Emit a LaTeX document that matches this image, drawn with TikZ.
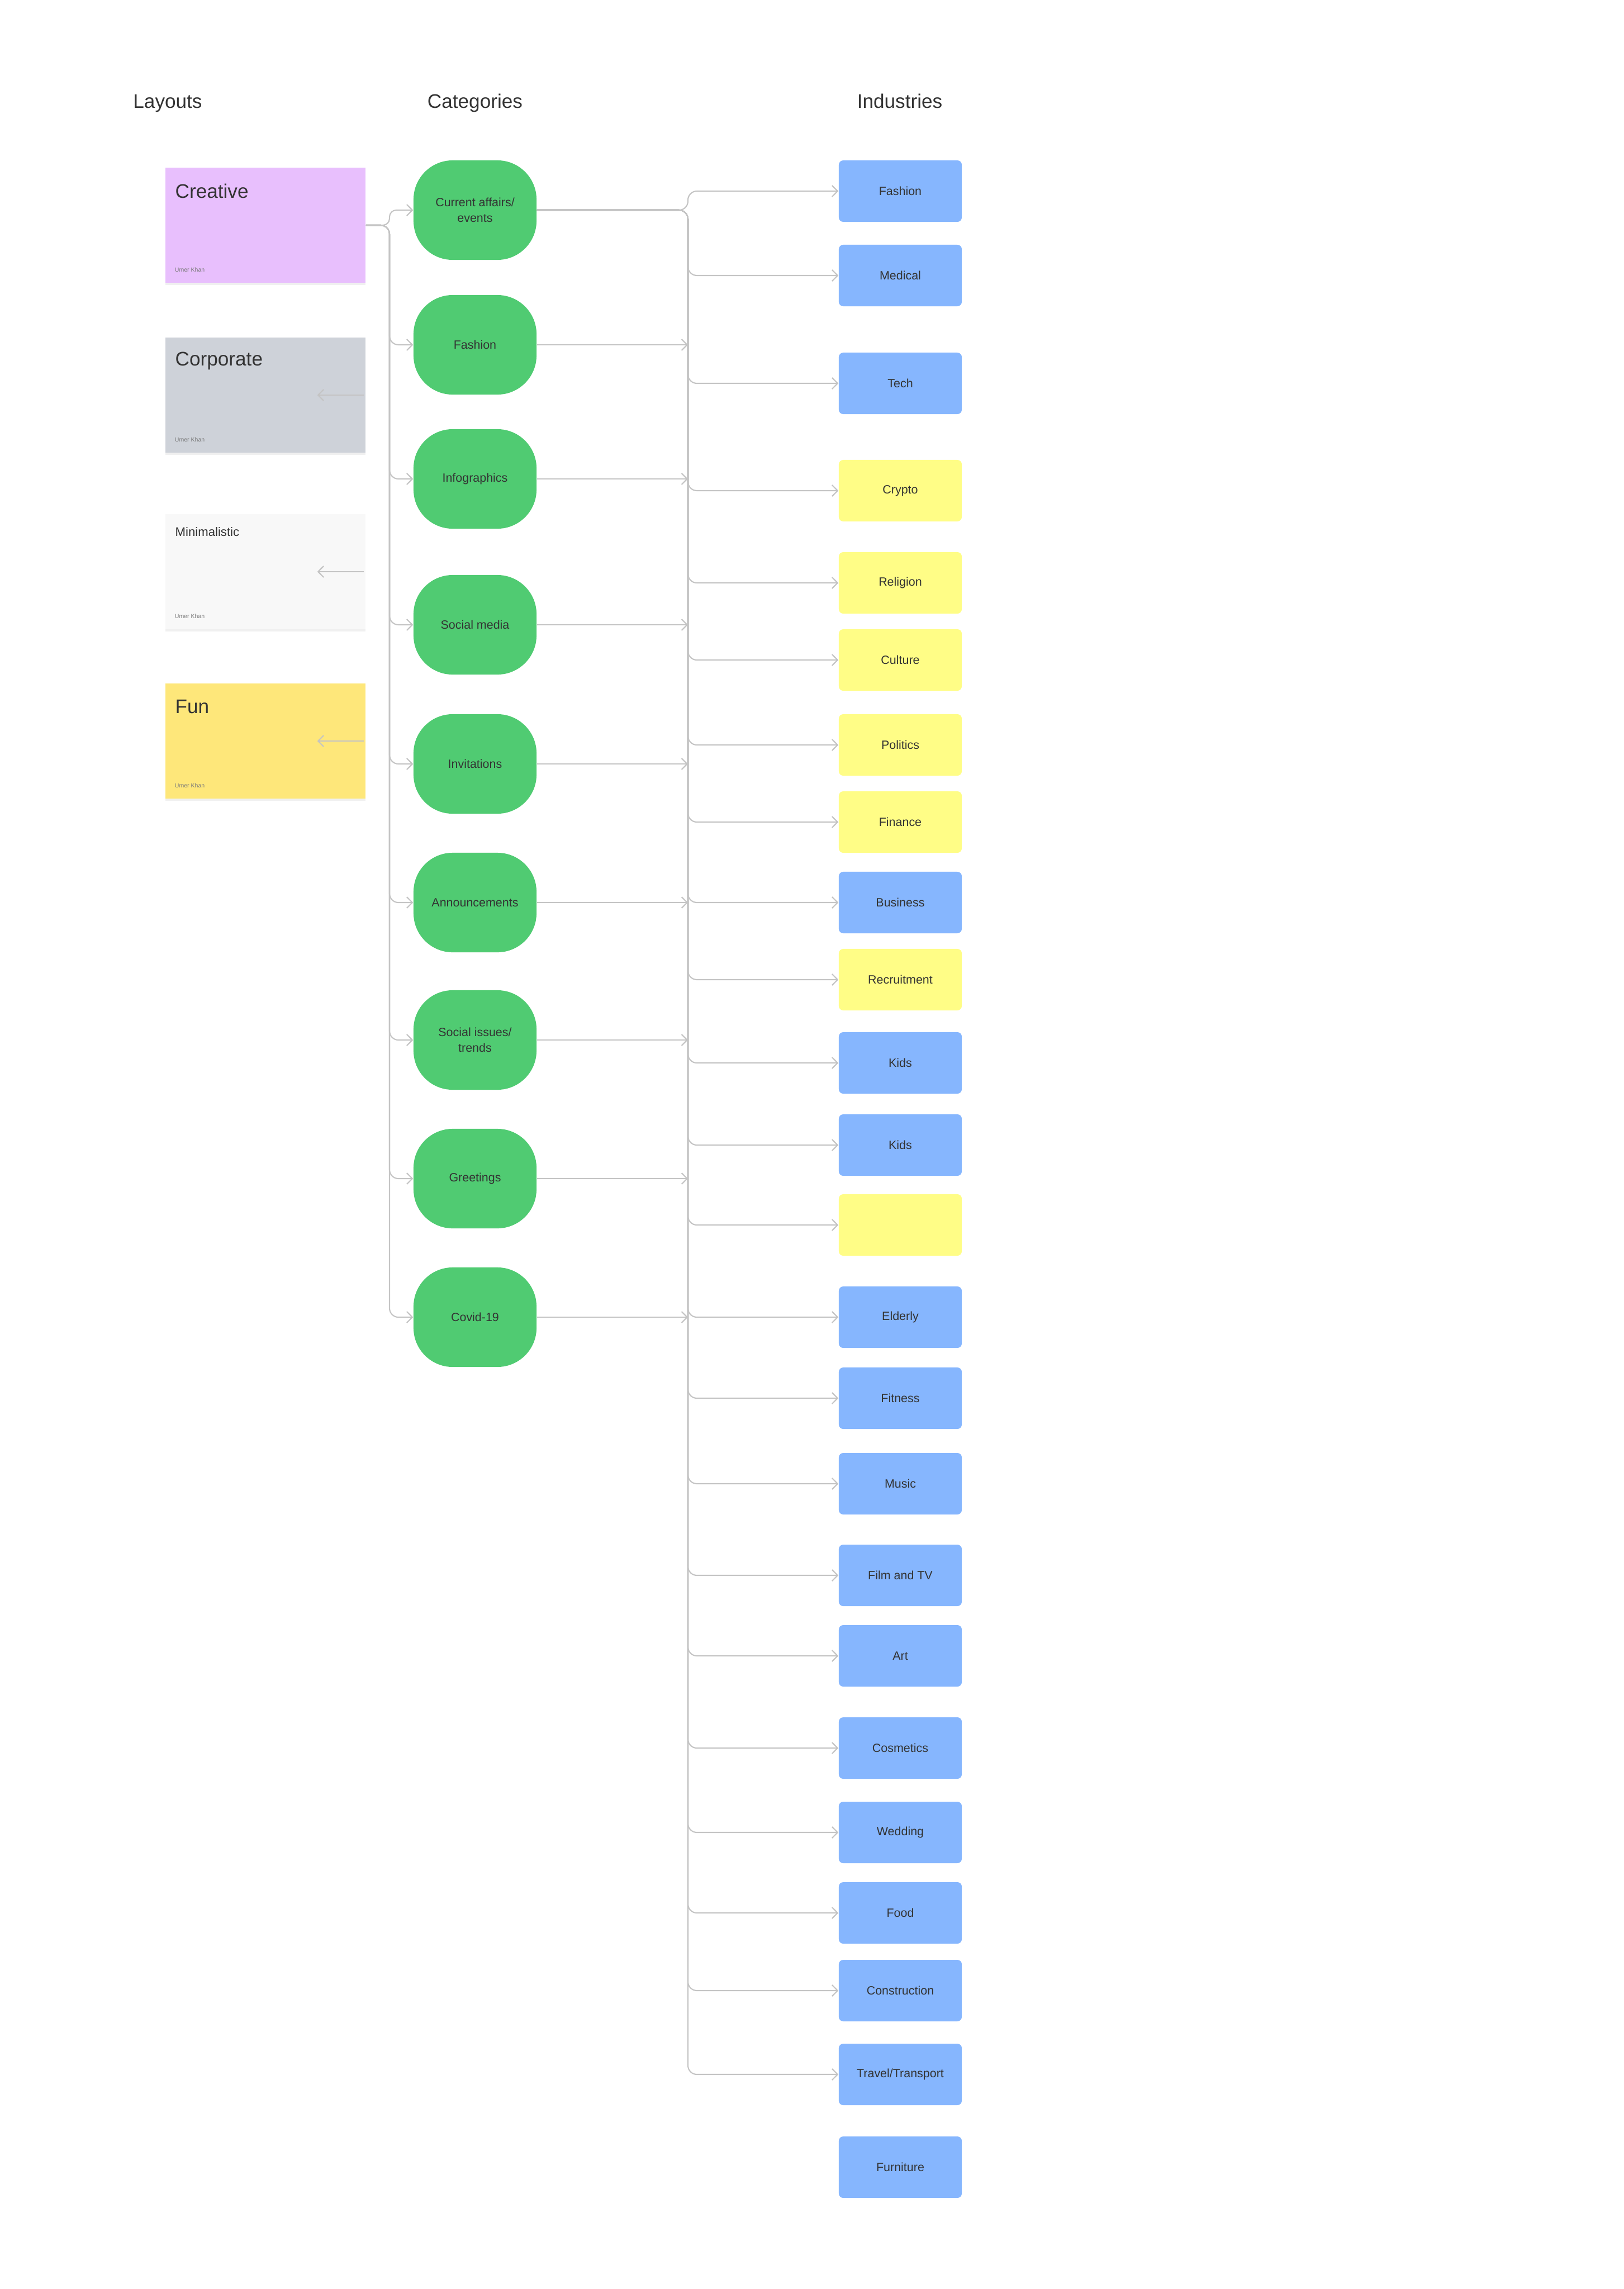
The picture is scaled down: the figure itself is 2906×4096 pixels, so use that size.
\documentclass[tikz,border=0pt]{standalone}
\usepackage{fontspec}
\setmainfont{Liberation Sans}
\usetikzlibrary{arrows.meta,shadows}

\definecolor{inkgray}{HTML}{333333}
\definecolor{namegray}{HTML}{7A7A7A}
\definecolor{linkgray}{HTML}{C4C4C4}
\definecolor{catgreen}{HTML}{50CB72}
\definecolor{indblue}{HTML}{86B6FE}
\definecolor{indyellow}{HTML}{FFFD86}
\definecolor{creativepink}{HTML}{E8BFFD}
\definecolor{corporategray}{HTML}{CED2D9}
\definecolor{minimalwhite}{HTML}{F8F8F8}
\definecolor{funyellow}{HTML}{FEE77A}

\tikzset{
  heading/.style={font=\fontsize{10}{12}\selectfont, anchor=base},
  card/.style={minimum width=3.58cm, minimum height=2.06cm,
    drop shadow={shadow xshift=0pt, shadow yshift=-1pt, opacity=0.12}},
  cardtitle/.style={anchor=west, font=\fontsize{10}{12}\selectfont},
  cardname/.style={anchor=west, font=\fontsize{3}{4}\selectfont, text=namegray},
  category/.style={fill=catgreen, rounded corners=0.7cm, minimum width=2.2cm,
    minimum height=1.78cm, align=center, font=\fontsize{6.1}{8}\selectfont},
  industry/.style={rounded corners=0.08cm, minimum width=2.2cm,
    minimum height=1.1cm, font=\fontsize{6.1}{8}\selectfont},
  link/.style={draw=linkgray, line width=0.6pt, rounded corners=0.16cm,
    -{Straight Barb[length=2.8pt, width=5.7pt]}}
}

\begin{document}
\begin{tikzpicture}[x=0.01cm, y=-0.01cm, every node/.style={inner sep=0pt, text=inkgray}]
    \useasboundingbox (0,0) rectangle (2906,4096);

    % column headings
    \node[heading] (h-layouts) at (300,193) {Layouts};
    \node[heading] (h-categories) at (850,193) {Categories};
    \node[heading] (h-industries) at (1610,193) {Industries};

    % layout cards
    \node[card, fill=creativepink] (creative) at (475,403) {};
    \node[card, fill=corporategray] (corporate) at (475,707) {};
    \node[card, fill=minimalwhite] (minimal) at (475,1023) {};
    \node[card, fill=funyellow] (fun) at (475,1326) {};
    \node[cardtitle] (creative-title) at (313,342) {Creative};
    \node[cardtitle] (corporate-title) at (313,646) {Corporate};
    \node[cardtitle, font=\fontsize{6.3}{8}\selectfont] (minimal-title) at (313,952) {Minimalistic};
    \node[cardtitle] (fun-title) at (313,1265) {Fun};
    \foreach \c in {creative,corporate,minimal,fun}
        \node[cardname] (\c-name) at ([xshift=0.17cm, yshift=-0.8cm]\c.west) {Umer Khan};
    \foreach \c in {corporate,minimal,fun}{
        \coordinate (\c-tip) at ([xshift=-0.87cm]\c.east);
        \draw[link] ([xshift=-0.04cm]\c.east) -- (\c-tip);
    }

    % categories
    \foreach \y/\txt [count=\i] in {376/{Current affairs/\\events}, 617/Fashion, 857/Infographics,
        1118/Social media, 1367/Invitations, 1615/Announcements, 1861/{Social issues/\\trends},
        2109/Greetings, 2357/Covid-19}
        \node[category] (c\i) at (850,\y) {\txt};

    % industries
    \foreach \y/\col/\txt [count=\i] in {342/indblue/Fashion, 493/indblue/Medical, 686/indblue/Tech,
        878/indyellow/Crypto, 1043/indyellow/Religion, 1181/indyellow/Culture, 1333/indyellow/Politics,
        1471/indyellow/Finance, 1615/indblue/Business, 1753/indyellow/Recruitment, 1902/indblue/Kids,
        2049/indblue/Kids, 2192/indyellow/{}, 2357/indblue/Elderly, 2502/indblue/Fitness,
        2655/indblue/Music, 2819/indblue/Film and TV, 2963/indblue/Art, 3128/indblue/Cosmetics,
        3279/indblue/Wedding, 3423/indblue/Food, 3562/indblue/Construction,
        3712/indblue/{Travel/Transport}, 3878/indblue/Furniture}
        \node[industry, fill=\col] (ind\i) at (1611,\y) {\txt};

    % layouts -> categories
    \coordinate (ltrunk) at (697,403);
    \draw[link, rounded corners=0.12cm] (creative.east) -- (ltrunk) |- (c1.west);
    \foreach \i in {2,...,9}
        \draw[link] (creative.east) -- (ltrunk) |- (c\i.west);

    % categories -> industries
    \coordinate (rtrunk) at (1231,376);
    \foreach \i in {2,...,9}{
        \coordinate (rin\i) at (rtrunk |- c\i.east);
        \draw[link] (c\i.east) -- (rin\i);
    }
    \foreach \i in {1,...,23}
        \draw[link] (c1.east) -- (rtrunk) |- (ind\i.west);
\end{tikzpicture}
\end{document}
